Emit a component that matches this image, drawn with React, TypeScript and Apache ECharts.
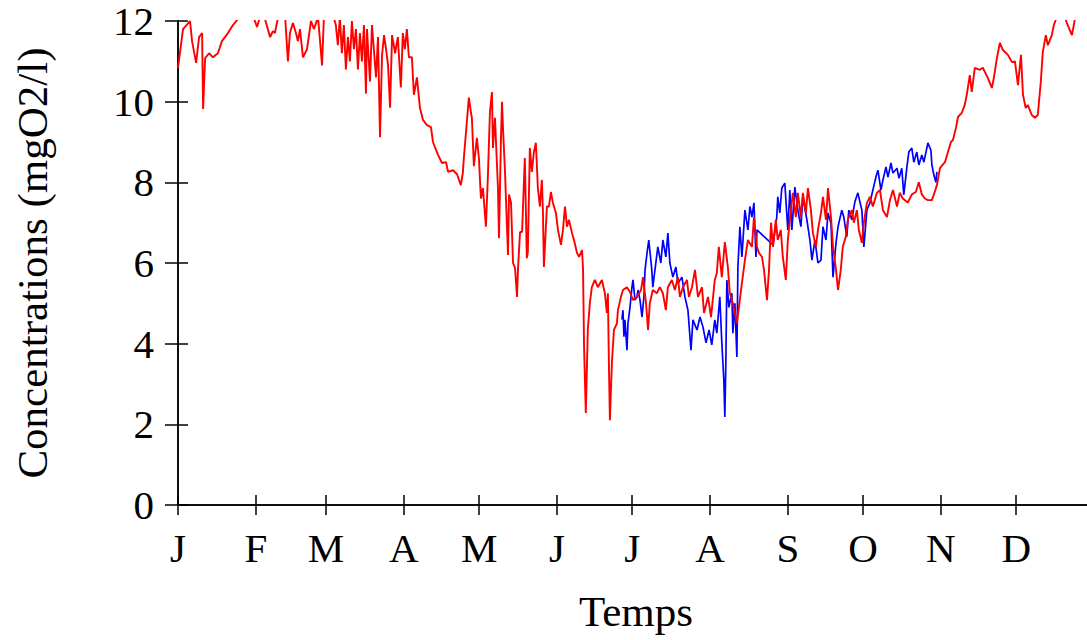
import React, { useEffect, useRef } from "react";
import * as echarts from "echarts";

const monthStarts = [0, 31, 59, 90, 120, 151, 181, 212, 243, 273, 304, 334];
const monthLabels = ["J", "F", "M", "A", "M", "J", "J", "A", "S", "O", "N", "D"];
const yTicks = [0, 2, 4, 6, 8, 10, 12];

// [day of year, concentration mgO2/l]
const redSeries: [number, number][] = [
  [0, 10.84], [2.0, 11.8], [4.8, 12.0], [5.6, 11.5], [7.2, 10.96], [8.4, 11.6], [9.6, 11.7], [10.0, 9.82],
  [10.8, 11.08], [12.4, 11.2], [13.9, 11.1], [15.9, 11.2], [17.5, 11.5], [19.9, 11.7], [21.9, 11.9],
  [23.9, 12.05], [26.7, 12.3], [29.5, 12.2], [31.5, 11.85], [33.5, 12.3], [36.7, 11.6], [37.8, 11.75],
  [38.6, 11.7], [39.4, 11.95], [40.6, 12.3], [42.6, 12.2], [43.8, 11.0], [44.6, 11.7], [45.8, 11.95],
  [47.0, 11.7], [47.8, 11.5], [48.6, 11.8], [49.8, 11.1], [51.4, 11.3], [53.0, 12.0], [54.2, 11.8],
  [55.8, 12.1], [57.4, 10.9], [58.2, 12.2], [60.6, 12.4], [62.9, 11.9], [63.7, 11.4], [64.5, 12.1],
  [65.3, 11.2], [66.1, 11.9], [66.9, 10.8], [67.7, 11.6], [68.5, 11.0], [69.3, 12.0], [70.1, 11.3],
  [70.9, 11.8], [71.7, 10.8], [72.5, 11.7], [73.3, 11.0], [74.1, 11.9], [74.9, 10.2], [75.3, 11.8],
  [76.5, 10.5], [77.3, 11.9], [78.9, 10.6], [79.7, 11.6], [80.5, 9.12], [81.3, 11.15], [82.1, 11.65],
  [82.9, 11.3], [83.7, 10.9], [84.5, 9.85], [85.3, 11.65], [86.5, 11.2], [87.6, 11.6], [88.8, 10.35],
  [89.6, 11.7], [90.4, 11.3], [91.2, 11.8], [92.0, 11.1], [93.2, 11.1], [94.0, 10.17], [95.2, 10.6],
  [96.4, 9.85], [97.6, 9.55], [99.2, 9.42], [100.8, 9.37], [101.6, 9.0], [103.6, 8.68], [105.2, 8.48],
  [106.8, 8.5], [107.6, 8.26], [109.6, 8.3], [111.2, 8.2], [112.7, 7.93], [113.5, 8.23], [113.9, 8.6],
  [115.1, 9.5], [115.9, 10.1], [116.7, 9.75], [117.1, 9.6], [117.9, 8.4], [119.1, 9.1], [119.9, 8.6],
  [120.7, 7.6], [121.5, 7.86], [122.7, 6.9], [123.5, 8.18], [124.3, 9.75], [125.1, 10.24], [125.5, 8.85],
  [126.3, 9.6], [127.5, 7.86], [127.9, 6.62], [128.7, 9.1], [129.1, 10.0], [129.5, 9.35], [130.3, 8.26],
  [131.5, 6.2], [131.9, 7.7], [132.7, 7.5], [133.5, 6.0], [134.3, 5.88], [135.1, 5.16], [135.5, 5.88],
  [136.3, 6.77], [137.1, 6.77], [138.2, 8.6], [139.0, 6.12], [139.4, 6.27], [140.2, 8.85], [141.0, 8.26],
  [141.8, 8.75], [142.6, 8.98], [143.4, 7.86], [144.2, 7.4], [145.0, 8.06], [145.4, 7.3], [145.8, 5.9],
  [147.0, 7.4], [147.8, 7.4], [148.6, 7.76], [149.4, 7.49], [150.6, 7.24], [151.4, 6.82], [152.6, 6.45],
  [153.4, 6.82], [154.2, 7.4], [155.0, 6.9], [155.8, 7.07], [157.0, 6.74], [157.8, 6.57], [159.0, 6.25],
  [159.8, 6.15], [161.0, 6.32], [161.4, 5.83], [161.8, 3.92], [162.5, 2.28], [163.3, 4.34], [164.1, 5.0],
  [164.9, 5.4], [166.1, 5.58], [167.3, 5.4], [168.9, 5.58], [170.1, 5.25], [170.9, 4.76], [171.3, 5.25],
  [171.7, 3.52], [172.1, 2.1], [172.9, 3.52], [173.7, 4.34], [174.9, 4.5], [175.3, 4.83], [176.5, 5.16],
  [177.3, 5.33], [178.9, 5.4], [180.1, 5.28], [181.3, 5.08], [182.9, 5.16], [184.5, 5.33], [185.3, 5.65],
  [186.5, 5.0], [187.3, 4.34], [188.0, 5.0], [189.2, 5.33], [190.8, 5.25], [192.0, 5.4], [193.2, 5.25],
  [194.4, 4.83], [195.2, 5.4], [196.8, 5.58], [198.0, 5.33], [199.2, 5.65], [200.0, 5.16], [201.2, 5.4],
  [202.8, 5.58], [203.6, 5.16], [204.8, 5.4], [206.0, 5.83], [207.2, 5.16], [208.8, 5.4], [209.6, 4.76],
  [211.2, 5.16], [212.4, 4.66], [213.9, 5.58], [214.7, 5.75], [215.5, 6.4], [216.7, 5.65], [217.9, 6.52],
  [219.1, 5.9], [219.9, 5.25], [221.1, 5.0], [222.7, 4.5], [223.5, 4.9], [224.7, 5.5], [225.9, 6.07],
  [227.1, 6.57], [228.7, 6.4], [229.5, 7.14], [230.7, 6.4], [231.5, 6.25], [232.7, 6.15], [233.5, 5.83],
  [234.7, 5.08], [235.5, 5.83], [236.3, 7.0], [237.1, 6.4], [238.2, 7.07], [239.0, 6.57], [240.2, 6.82],
  [241.0, 6.15], [242.2, 5.58], [243.0, 6.57], [244.2, 7.31], [245.0, 7.74], [246.2, 7.14], [247.0, 7.74],
  [248.2, 7.14], [249.0, 7.74], [250.2, 7.24], [251.0, 7.86], [252.2, 7.31], [253.0, 6.74], [254.2, 6.4],
  [255.0, 6.82], [256.2, 7.24], [257.0, 7.64], [258.2, 7.07], [259.0, 7.86], [260.2, 7.14], [261.0, 6.4],
  [262.2, 5.83], [263.0, 5.33], [264.1, 5.83], [264.9, 6.4], [266.1, 6.65], [266.9, 7.07], [268.5, 7.31],
  [269.3, 7.0], [270.5, 7.31], [271.3, 6.82], [272.5, 6.5], [273.3, 7.0], [274.5, 7.49], [275.7, 7.64],
  [276.9, 7.4], [278.5, 7.74], [279.7, 7.81], [280.9, 7.31], [282.5, 7.14], [283.7, 7.56], [284.9, 7.81],
  [286.5, 7.4], [287.6, 7.74], [288.8, 7.6], [290.8, 7.5], [292.4, 7.7], [294.0, 7.76], [295.2, 8.0],
  [296.4, 7.7], [297.6, 7.6], [298.8, 7.56], [300.4, 7.56], [301.2, 7.7], [302.4, 7.93], [303.6, 8.35],
  [305.6, 8.5], [306.8, 8.75], [308.0, 9.0], [308.8, 9.05], [310.0, 9.35], [310.8, 9.62], [312.3, 9.72],
  [313.5, 9.92], [314.3, 10.17], [315.5, 10.66], [316.3, 10.24], [317.5, 10.84], [319.5, 10.79],
  [320.7, 10.84], [322.7, 10.59], [324.3, 10.34], [325.1, 10.59], [326.3, 11.08], [327.5, 11.46],
  [328.7, 11.28], [330.7, 11.16], [332.3, 10.98], [333.5, 11.0], [334.7, 10.41], [335.9, 11.16],
  [336.7, 10.17], [337.8, 9.84], [338.6, 9.92], [340.2, 9.67], [341.4, 9.6], [342.6, 9.67], [343.8, 10.49],
  [344.6, 11.23], [345.8, 11.65], [346.6, 11.4], [348.2, 11.65], [349.0, 11.9], [350.2, 12.1],
  [352.2, 12.3], [354.2, 11.95], [356.2, 11.65], [357.4, 12.05], [359.4, 12.3], [363.3, 12.4],
];

const blueSeries: [number, number][] = [
  [176.9, 4.6], [177.3, 4.83], [177.7, 4.17], [178.1, 4.59], [178.9, 3.84], [179.3, 4.5], [180.1, 4.9],
  [180.9, 5.4], [181.3, 5.58], [182.1, 5.08], [182.9, 5.16], [183.3, 5.33], [184.1, 5.08], [184.9, 4.66],
  [185.7, 5.2], [186.1, 5.83], [186.9, 6.25], [187.6, 6.57], [188.8, 5.83], [189.2, 5.4], [190.4, 6.0],
  [191.2, 6.4], [192.4, 6.0], [193.2, 6.57], [194.4, 6.15], [195.2, 6.74], [196.0, 6.0], [197.2, 5.65],
  [198.4, 5.9], [199.2, 5.5], [200.8, 5.65], [202.0, 5.16], [203.2, 4.83], [204.4, 3.84], [205.2, 4.59],
  [206.8, 4.34], [208.0, 4.66], [209.2, 4.41], [210.4, 4.02], [211.6, 4.34], [212.7, 3.97], [213.9, 4.59],
  [214.7, 4.26], [215.9, 5.16], [216.7, 4.02], [217.5, 3.1], [217.9, 2.18], [218.3, 3.52], [218.7, 5.58],
  [219.5, 4.9], [220.7, 5.25], [221.1, 4.26], [221.9, 5.0], [222.7, 3.67], [223.1, 5.9], [223.9, 6.9],
  [224.7, 6.15], [225.9, 7.31], [227.1, 6.82], [227.9, 7.4], [228.7, 7.14], [229.5, 7.49], [230.3, 6.15],
  [230.7, 6.82], [237.1, 6.45], [238.6, 7.14], [239.0, 7.64], [239.8, 7.24], [240.6, 7.86], [241.8, 7.98],
  [243.0, 6.82], [243.8, 7.81], [244.6, 6.82], [245.8, 7.88], [247.0, 7.31], [248.2, 6.9], [249.0, 7.64],
  [250.6, 7.07], [251.8, 6.57], [252.6, 6.07], [253.8, 6.57], [255.0, 6.0], [256.2, 6.07], [257.0, 6.9],
  [258.2, 6.57], [259.0, 7.24], [260.2, 6.98], [261.0, 5.65], [262.2, 6.5], [263.0, 6.9], [264.5, 7.31],
  [265.3, 7.14], [266.5, 6.65], [267.3, 7.31], [268.5, 7.07], [269.7, 7.51], [270.9, 7.74], [272.5, 7.31],
  [273.3, 6.4], [274.5, 7.31], [275.7, 7.49], [276.9, 7.81], [278.1, 8.13], [278.9, 8.3], [280.1, 7.81],
  [280.9, 8.06], [282.1, 8.38], [282.9, 8.13], [284.1, 8.48], [284.9, 8.23], [286.5, 8.35], [287.3, 8.1],
  [288.4, 8.35], [289.2, 7.69], [290.4, 8.35], [291.2, 8.75], [292.4, 8.85], [293.2, 8.5], [294.4, 8.75],
  [295.2, 8.43], [296.4, 8.68], [297.2, 8.5], [298.4, 8.85], [298.8, 8.98], [300.0, 8.8], [300.4, 8.43],
  [301.2, 8.18], [302.0, 8.0], [302.4, 8.26],
];

const FONT = "'Liberation Serif', 'Times New Roman', serif";
const FS = 41;
const NAME_FS = 43;

export default function App() {
  const ref = useRef<HTMLDivElement>(null);
  useEffect(() => {
    if (!ref.current) return;
    const chart = echarts.init(ref.current, null, { renderer: "svg" });
    const axisLine = { show: true, lineStyle: { color: "#000", width: 1.5 } };
    const tickStyle = { color: "#000", width: 1.5 };
    chart.setOption({
      animation: false,
      backgroundColor: "#fff",
      grid: { left: 178, top: 21, width: 916, height: 484, show: false },
      xAxis: [
        {
          type: "value",
          min: 0,
          max: 365,
          position: "bottom",
          axisLine,
          splitLine: { show: false },
          axisTick: { show: true, inside: true, length: 10, lineStyle: tickStyle, customValues: monthStarts },
          axisLabel: {
            show: true,
            customValues: monthStarts,
            formatter: (v: number) => monthLabels[monthStarts.indexOf(Math.round(v))] ?? "",
            fontFamily: FONT,
            fontSize: FS,
            color: "#000",
            margin: 22,
          },
          name: "Temps",
          nameLocation: "middle",
          nameGap: 85,
          nameTextStyle: { fontFamily: FONT, fontSize: NAME_FS, color: "#000" },
        },
        {
          type: "value",
          min: 0,
          max: 365,
          position: "top",
          axisLine,
          splitLine: { show: false },
          axisTick: { show: true, inside: true, length: 10, lineStyle: tickStyle, customValues: monthStarts },
          axisLabel: { show: false, customValues: monthStarts },
        },
      ],
      yAxis: [
        {
          type: "value",
          min: 0,
          max: 12,
          interval: 2,
          position: "left",
          axisLine,
          splitLine: { show: false },
          axisTick: { show: true, inside: true, length: 10, lineStyle: tickStyle },
          axisLabel: {
            show: true,
            fontFamily: FONT,
            fontSize: FS,
            lineHeight: 36,
            color: "#000",
            margin: 24,
            formatter: (v: number) => (yTicks.includes(v) ? String(v) : ""),
          },
          name: "Concentrations (mgO2/l)",
          nameLocation: "middle",
          nameGap: 124,
          nameRotate: 90,
          nameTextStyle: { fontFamily: FONT, fontSize: NAME_FS, color: "#000" },
        },
        {
          type: "value",
          min: 0,
          max: 12,
          interval: 2,
          position: "right",
          axisLine,
          splitLine: { show: false },
          axisTick: { show: true, inside: true, length: 13, lineStyle: tickStyle },
          axisLabel: { show: false },
        },
      ],
      series: [
        {
          type: "line",
          data: blueSeries,
          xAxisIndex: 0,
          yAxisIndex: 0,
          showSymbol: false,
          symbol: "none",
          clip: true,
          lineStyle: { color: "#0000ff", width: 1.7 },
          itemStyle: { color: "#0000ff" },
        },
        {
          type: "line",
          data: redSeries,
          xAxisIndex: 0,
          yAxisIndex: 0,
          showSymbol: false,
          symbol: "none",
          clip: true,
          lineStyle: { color: "#ff0000", width: 1.9 },
          itemStyle: { color: "#ff0000" },
        },
      ],
    });
    return () => chart.dispose();
  }, []);
  return (
    <div style={{ position: "absolute", left: 0, top: 0, width: 1087, height: 640, overflow: "hidden", background: "#fff" }}>
      <div ref={ref} style={{ position: "absolute", left: 0, top: 0, width: 1110, height: 640 }} />
    </div>
  );
}
